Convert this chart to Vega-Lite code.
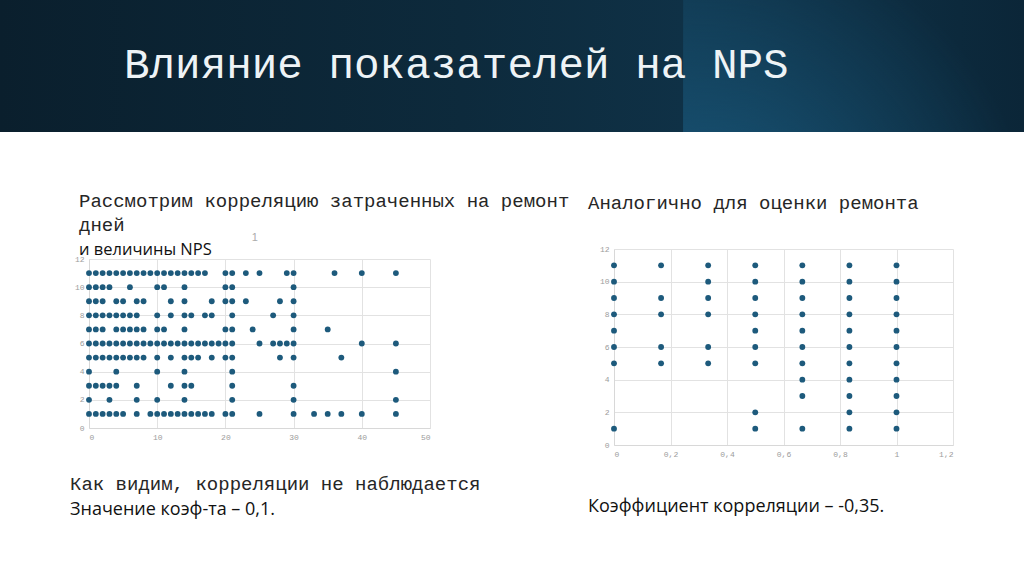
{
  "$schema": "https://vega.github.io/schema/vega-lite/v6.json",
  "background": "white",
  "padding": 0,
  "spacing": 0,
  "bounds": "flush",
  "config": {
    "view": {"stroke": null},
    "axis": {
      "labelFont": "Liberation Mono",
      "labelFontSize": 8,
      "labelColor": "#9c9c9c",
      "labelOverlap": false,
      "gridColor": "#e2e2e2",
      "domainColor": "#d8d8d8",
      "ticks": false,
      "title": null,
      "labelPadding": 5
    },
    "point": {"filled": true, "opacity": 1, "size": 34, "color": "#1d5a7c"}
  },
  "datasets": {
    "days": [
      {"d":0,"n":11},{"d":1,"n":11},{"d":2,"n":11},{"d":3,"n":11},{"d":4,"n":11},{"d":5,"n":11},{"d":6,"n":11},{"d":7,"n":11},{"d":8,"n":11},{"d":9,"n":11},{"d":10,"n":11},{"d":11,"n":11},{"d":12,"n":11},{"d":13,"n":11},{"d":14,"n":11},{"d":15,"n":11},{"d":16,"n":11},{"d":17,"n":11},{"d":20,"n":11},{"d":21,"n":11},{"d":23,"n":11},{"d":25,"n":11},{"d":29,"n":11},{"d":30,"n":11},{"d":36,"n":11},{"d":40,"n":11},{"d":45,"n":11},
      {"d":0,"n":10},{"d":1,"n":10},{"d":2,"n":10},{"d":3,"n":10},{"d":6,"n":10},{"d":10,"n":10},{"d":11,"n":10},{"d":14,"n":10},{"d":20,"n":10},{"d":21,"n":10},{"d":30,"n":10},
      {"d":0,"n":9},{"d":1,"n":9},{"d":2,"n":9},{"d":4,"n":9},{"d":5,"n":9},{"d":7,"n":9},{"d":8,"n":9},{"d":12,"n":9},{"d":14,"n":9},{"d":18,"n":9},{"d":20,"n":9},{"d":21,"n":9},{"d":23,"n":9},{"d":28,"n":9},{"d":30,"n":9},
      {"d":0,"n":8},{"d":1,"n":8},{"d":2,"n":8},{"d":3,"n":8},{"d":4,"n":8},{"d":5,"n":8},{"d":6,"n":8},{"d":7,"n":8},{"d":10,"n":8},{"d":12,"n":8},{"d":14,"n":8},{"d":15,"n":8},{"d":17,"n":8},{"d":18,"n":8},{"d":21,"n":8},{"d":27,"n":8},{"d":30,"n":8},
      {"d":0,"n":7},{"d":1,"n":7},{"d":2,"n":7},{"d":4,"n":7},{"d":5,"n":7},{"d":6,"n":7},{"d":7,"n":7},{"d":8,"n":7},{"d":10,"n":7},{"d":11,"n":7},{"d":14,"n":7},{"d":20,"n":7},{"d":21,"n":7},{"d":24,"n":7},{"d":30,"n":7},{"d":35,"n":7},
      {"d":0,"n":6},{"d":1,"n":6},{"d":2,"n":6},{"d":3,"n":6},{"d":4,"n":6},{"d":5,"n":6},{"d":6,"n":6},{"d":7,"n":6},{"d":8,"n":6},{"d":9,"n":6},{"d":10,"n":6},{"d":11,"n":6},{"d":12,"n":6},{"d":13,"n":6},{"d":14,"n":6},{"d":15,"n":6},{"d":16,"n":6},{"d":17,"n":6},{"d":18,"n":6},{"d":19,"n":6},{"d":20,"n":6},{"d":21,"n":6},{"d":25,"n":6},{"d":27,"n":6},{"d":28,"n":6},{"d":29,"n":6},{"d":30,"n":6},{"d":40,"n":6},{"d":45,"n":6},
      {"d":0,"n":5},{"d":1,"n":5},{"d":2,"n":5},{"d":3,"n":5},{"d":4,"n":5},{"d":5,"n":5},{"d":6,"n":5},{"d":7,"n":5},{"d":8,"n":5},{"d":10,"n":5},{"d":12,"n":5},{"d":14,"n":5},{"d":15,"n":5},{"d":16,"n":5},{"d":18,"n":5},{"d":20,"n":5},{"d":21,"n":5},{"d":28,"n":5},{"d":30,"n":5},{"d":37,"n":5},
      {"d":0,"n":4},{"d":4,"n":4},{"d":10,"n":4},{"d":14,"n":4},{"d":21,"n":4},{"d":45,"n":4},
      {"d":0,"n":3},{"d":1,"n":3},{"d":2,"n":3},{"d":3,"n":3},{"d":4,"n":3},{"d":7,"n":3},{"d":12,"n":3},{"d":14,"n":3},{"d":15,"n":3},{"d":21,"n":3},{"d":30,"n":3},
      {"d":0,"n":2},{"d":3,"n":2},{"d":7,"n":2},{"d":10,"n":2},{"d":14,"n":2},{"d":21,"n":2},{"d":30,"n":2},{"d":45,"n":2},
      {"d":0,"n":1},{"d":1,"n":1},{"d":2,"n":1},{"d":3,"n":1},{"d":4,"n":1},{"d":5,"n":1},{"d":7,"n":1},{"d":9,"n":1},{"d":10,"n":1},{"d":11,"n":1},{"d":12,"n":1},{"d":13,"n":1},{"d":14,"n":1},{"d":15,"n":1},{"d":16,"n":1},{"d":17,"n":1},{"d":18,"n":1},{"d":20,"n":1},{"d":21,"n":1},{"d":25,"n":1},{"d":30,"n":1},{"d":33,"n":1},{"d":35,"n":1},{"d":37,"n":1},{"d":40,"n":1},{"d":45,"n":1}
    ],
    "grade": [
      {"g":0,"n":11},{"g":0,"n":10},{"g":0,"n":9},{"g":0,"n":8},{"g":0,"n":7},{"g":0,"n":6},{"g":0,"n":5},{"g":0,"n":1},
      {"g":0.1667,"n":11},{"g":0.1667,"n":9},{"g":0.1667,"n":8},{"g":0.1667,"n":6},{"g":0.1667,"n":5},
      {"g":0.3333,"n":11},{"g":0.3333,"n":10},{"g":0.3333,"n":9},{"g":0.3333,"n":8},{"g":0.3333,"n":6},{"g":0.3333,"n":5},
      {"g":0.5,"n":11},{"g":0.5,"n":10},{"g":0.5,"n":9},{"g":0.5,"n":8},{"g":0.5,"n":7},{"g":0.5,"n":6},{"g":0.5,"n":5},{"g":0.5,"n":2},{"g":0.5,"n":1},
      {"g":0.6667,"n":11},{"g":0.6667,"n":10},{"g":0.6667,"n":9},{"g":0.6667,"n":8},{"g":0.6667,"n":7},{"g":0.6667,"n":6},{"g":0.6667,"n":5},{"g":0.6667,"n":4},{"g":0.6667,"n":3},{"g":0.6667,"n":1},
      {"g":0.8333,"n":11},{"g":0.8333,"n":10},{"g":0.8333,"n":9},{"g":0.8333,"n":8},{"g":0.8333,"n":7},{"g":0.8333,"n":6},{"g":0.8333,"n":5},{"g":0.8333,"n":4},{"g":0.8333,"n":3},{"g":0.8333,"n":2},{"g":0.8333,"n":1},
      {"g":1,"n":11},{"g":1,"n":10},{"g":1,"n":9},{"g":1,"n":8},{"g":1,"n":7},{"g":1,"n":6},{"g":1,"n":5},{"g":1,"n":4},{"g":1,"n":3},{"g":1,"n":2},{"g":1,"n":1}
    ]
  },
  "vconcat": [
    {
      "width": 1024,
      "height": 132,
      "data": {"values": [{"label": "Влияние показателей на NPS"}]},
      "layer": [
        {
          "mark": {
            "type": "rect",
            "fill": {
              "gradient": "linear", "x1": 0, "y1": 0, "x2": 1, "y2": 0,
              "stops": [
                {"offset": 0, "color": "#0a1f2d"},
                {"offset": 0.45, "color": "#0d2a3c"},
                {"offset": 0.667, "color": "#0f3146"},
                {"offset": 0.668, "color": "#10364d"},
                {"offset": 1, "color": "#0b2638"}
              ]
            }
          },
          "encoding": {"x": {"value": 0}, "x2": {"value": "width"}, "y": {"value": 0}, "y2": {"value": "height"}}
        },
        {
          "mark": {
            "type": "rect",
            "fill": {
              "gradient": "radial", "x1": 0.08, "y1": 1.05, "r1": 0, "x2": 0.08, "y2": 1.05, "r2": 0.95,
              "stops": [
                {"offset": 0, "color": "rgba(28,100,140,0.75)"},
                {"offset": 1, "color": "rgba(28,100,140,0)"}
              ]
            }
          },
          "encoding": {"x": {"value": 683}, "x2": {"value": "width"}, "y": {"value": 0}, "y2": {"value": "height"}}
        },
        {
          "mark": {"type": "text", "align": "left", "baseline": "alphabetic", "font": "Liberation Mono", "fontSize": 42.6, "color": "#eef3f6"},
          "encoding": {"text": {"field": "label"}, "x": {"value": 124}, "y": {"value": 78}}
        }
      ]
    },
    {
      "spacing": 0,
      "bounds": "flush",
      "hconcat": [
        {"width": 89, "height": 1, "data": {"values": []}, "mark": "point"},
        {
          "spacing": 0,
          "bounds": "flush",
          "vconcat": [
            {"width": 341, "height": 127, "data": {"values": []}, "mark": "point"},
            {
              "width": 341,
              "height": 169,
              "title": {
                "text": ["Рассмотрим корреляцию затраченных на ремонт", "дней"],
                "subtitle": "и величины NPS",
                "anchor": "start",
                "frame": "group",
                "dx": -10,
                "offset": -27,
                "font": "Liberation Mono",
                "fontSize": 19,
                "fontWeight": "normal",
                "lineHeight": 24,
                "color": "#262626",
                "subtitleFont": "Open Sans",
                "subtitleFontSize": 16.5,
                "subtitleColor": "#111111",
                "subtitlePadding": 7
              },
              "data": {"name": "days"},
              "layer": [
                {
                  "mark": {"type": "point", "clip": false},
                  "encoding": {
                    "x": {"field": "d", "type": "quantitative", "scale": {"domain": [0, 50], "nice": false, "zero": true},
                          "axis": {"values": [0, 10, 20, 30, 40, 50], "labelOverlap": false}},
                    "y": {"field": "n", "type": "quantitative", "scale": {"domain": [0, 12], "nice": false},
                          "axis": {"values": [0, 2, 4, 6, 8, 10, 12], "labelOverlap": false}}
                  }
                },
                {
                  "data": {"values": [{"t": "1"}]},
                  "mark": {"type": "text", "font": "Liberation Sans", "fontSize": 11, "fill": "#ababab", "clip": false},
                  "encoding": {
                    "text": {"field": "t"},
                    "x": {"datum": 24.3, "type": "quantitative", "axis": {"values": [0, 10, 20, 30, 40, 50], "labelOverlap": false}},
                    "y": {"datum": 13.5, "type": "quantitative", "axis": {"values": [0, 2, 4, 6, 8, 10, 12], "labelOverlap": false}}
                  }
                }
              ]
            },
            {
              "width": 341,
              "height": 1,
              "data": {"values": []},
              "mark": "point",
              "title": {
                "text": "Как видим, корреляции не наблюдается",
                "subtitle": "Значение коэф-та – 0,1.",
                "orient": "bottom",
                "anchor": "start",
                "frame": "group",
                "dx": -19,
                "offset": 46,
                "font": "Liberation Mono",
                "fontSize": 19,
                "fontWeight": "normal",
                "color": "#262626",
                "subtitleFont": "Open Sans",
                "subtitleFontSize": 18,
                "subtitleColor": "#111111",
                "subtitlePadding": 7
              }
            },
            {"width": 341, "height": 145, "data": {"values": []}, "mark": "point"}
          ]
        },
        {"width": 525, "height": 1, "data": {"values": []}, "mark": "point"},
        {
          "spacing": 0,
          "bounds": "flush",
          "vconcat": [
            {"width": 339, "height": 117, "data": {"values": []}, "mark": "point"},
            {
              "width": 339,
              "height": 196,
              "title": {
                "text": "Аналогично для оценки ремонта",
                "anchor": "start",
                "frame": "group",
                "dx": -26,
                "offset": 32,
                "font": "Liberation Mono",
                "fontSize": 19,
                "fontWeight": "normal",
                "color": "#262626"
              },
              "data": {"name": "grade"},
              "mark": {"type": "point", "clip": false},
              "encoding": {
                "x": {"field": "g", "type": "quantitative", "scale": {"domain": [0, 1.2], "nice": false},
                      "axis": {"values": [0, 0.2, 0.4, 0.6, 0.8, 1, 1.2], "format": "~g", "labelExpr": "replace(datum.label, '.', ',')", "labelOverlap": false}},
                "y": {"field": "n", "type": "quantitative", "scale": {"domain": [0, 12], "nice": false},
                      "axis": {"values": [0, 2, 4, 6, 8, 10, 12], "labelOverlap": false}}
              }
            },
            {
              "width": 339,
              "height": 1,
              "data": {"values": []},
              "mark": "point",
              "title": {
                "text": "Коэффициент корреляции – -0,35.",
                "orient": "bottom",
                "anchor": "start",
                "frame": "group",
                "dx": -26,
                "offset": 52,
                "font": "Open Sans",
                "fontSize": 18,
                "fontWeight": "normal",
                "color": "#111111"
              }
            }
          ]
        }
      ]
    }
  ]
}
